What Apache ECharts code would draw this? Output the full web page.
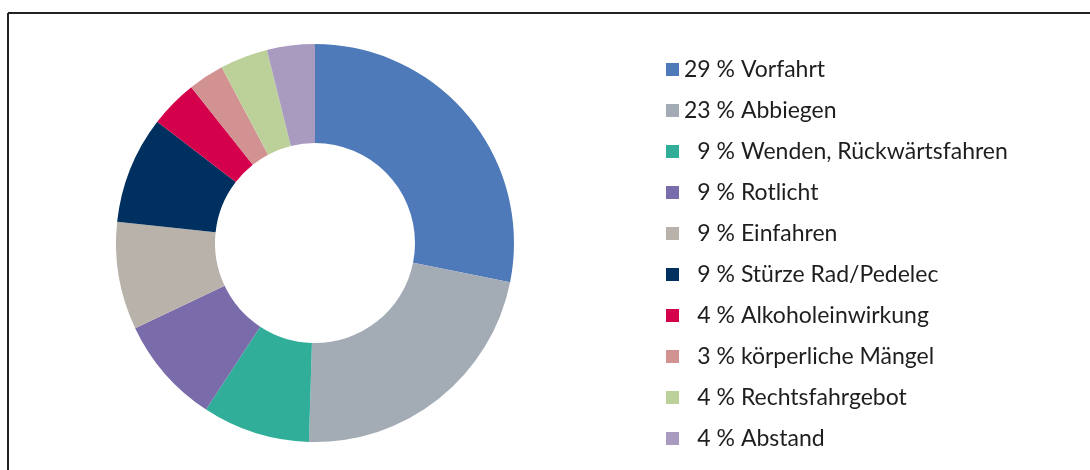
<!DOCTYPE html>
<html>
<head>
<meta charset="utf-8">
<script src="https://cdn.jsdelivr.net/npm/echarts@6/dist/echarts.min.js"></script>
<style>
  html, body { margin: 0; padding: 0; background: #fff; }
  #chart { width: 1090px; height: 470px; }
</style>
</head>
<body>
<div id="chart"></div>
<script>
// Unfallursachen, Anteile in Prozent
const categories = ['Vorfahrt', 'Abbiegen', 'Wenden, Rückwärtsfahren', 'Rotlicht', 'Einfahren',
  'Stürze Rad/Pedelec', 'Alkoholeinwirkung', 'körperliche Mängel', 'Rechtsfahrgebot', 'Abstand']
const values = [29, 23, 9, 9, 9, 9, 4, 3, 4, 4]
const colors = ['#4f7aba', '#a3abb5', '#30ae9a', '#7a6cab', '#b9b2ab',
  '#00305f', '#d4004b', '#d39292', '#bcd09a', '#a99abf']

const chart = echarts.init(document.getElementById('chart'), null, { renderer: 'canvas' })

let data = []
categories.forEach((name, i) => {
  data.push({ name: name, value: values[i] })
})

const option = {
  animation: false,
  color: colors,
  graphic: [
    // Rahmen oben und links (Ausschnitt)
    { type: 'line', shape: { x1: 8, y1: 13, x2: 1090, y2: 13 }, style: { stroke: '#222', lineWidth: 2 } },
    { type: 'line', shape: { x1: 8, y1: 13, x2: 8, y2: 470 }, style: { stroke: '#222', lineWidth: 2 } }
  ],
  legend: {
    orient: 'vertical',
    left: 666,
    top: 56,
    padding: 0,
    itemWidth: 13,
    itemHeight: 13,
    itemGap: 14,
    icon: 'rect',
    formatter: function (name) {
      const i = categories.indexOf(name)
      // einstellige Werte rechtsbündig mit Ziffernleerzeichen
      const v = values[i] < 10 ? '\u2007' + values[i] : String(values[i])
      return v + ' % ' + name
    },
    textStyle: {
      fontFamily: 'Lato',
      fontSize: 23,
      lineHeight: 27,
      color: '#1e1e1e'
    }
  },
  series: [{
    type: 'pie',
    center: [315, 243],
    radius: [100, 199],
    startAngle: 90,
    clockwise: true,
    label: { show: false },
    labelLine: { show: false },
    itemStyle: { borderWidth: 0 },
    emphasis: { disabled: true },
    data: data
  }]
}
chart.setOption(option)
</script>
</body>
</html>
